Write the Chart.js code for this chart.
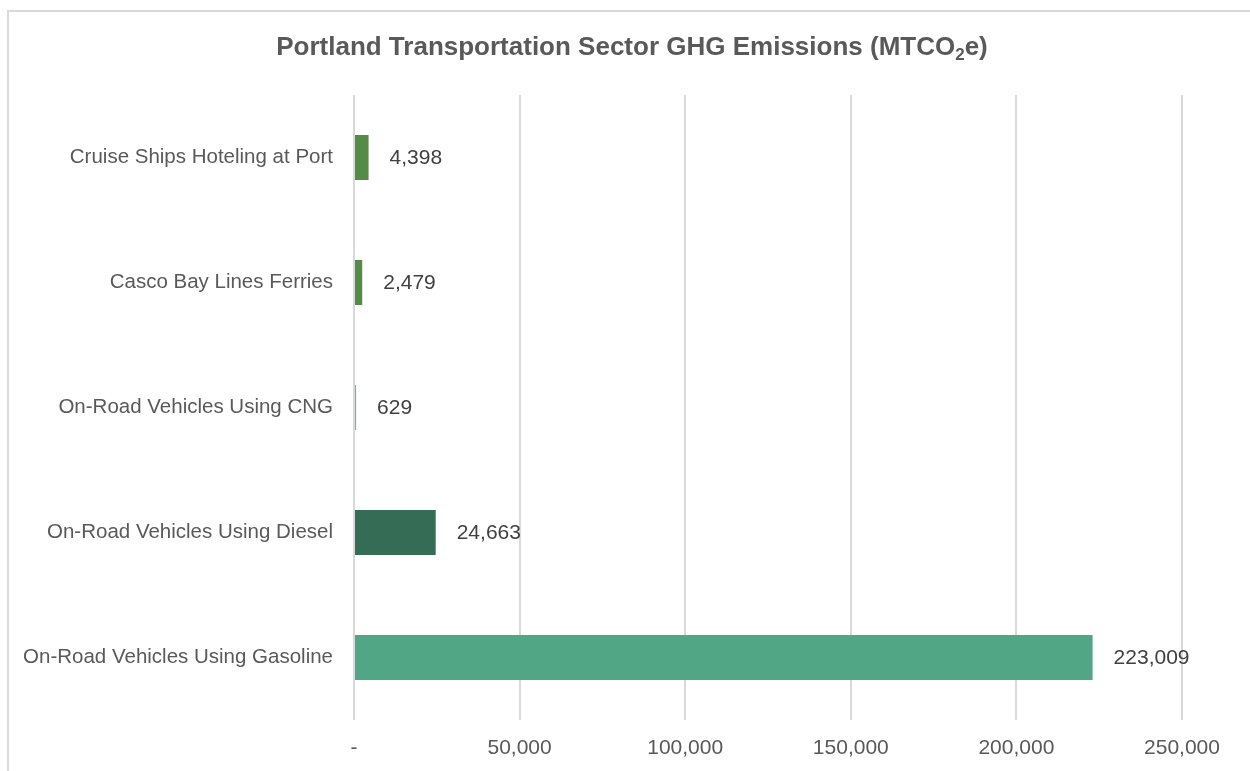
<!DOCTYPE html>
<html>
<head>
<meta charset="utf-8">
<script src="https://cdn.jsdelivr.net/npm/chart.js@4.4.1/dist/chart.umd.min.js"></script>
<style>
  html, body { margin: 0; padding: 0; background: #fff; }
  #wrap { position: relative; width: 1250px; height: 771px; overflow: hidden; }
  #frame { position: absolute; left: 7px; top: 10px; width: 1300px; height: 800px;
           border-left: 2px solid #d9d9d9; border-top: 2px solid #d9d9d9; }
  #title { position: absolute; left: 7px; width: 1250px; top: 31px; text-align: center;
           font: bold 26px "Liberation Sans", Arial, sans-serif; color: #595959; }
  #title sub { font-size: 17px; vertical-align: -5px; line-height: 0; }
  canvas { position: absolute; left: 0; top: 0; }
</style>
</head>
<body>
<div id="wrap">
  <div id="frame"></div>
  <canvas id="mycanvas" width="1250" height="771"></canvas>
  <div id="title">Portland Transportation Sector GHG Emissions (MTCO<sub>2</sub>e)</div>
</div>
<script>
var categories = ["Cruise Ships Hoteling at Port", "Casco Bay Lines Ferries", "On-Road Vehicles Using CNG",
                  "On-Road Vehicles Using Diesel", "On-Road Vehicles Using Gasoline"];
var emissions = [4398, 2479, 629, 24663, 223009];
var barColors = ["#548b47", "#548b47", "#5fbf9a", "#356c56", "#50a685"];
var xTicks = [0, 50000, 100000, 150000, 200000, 250000];

// value labels next to each bar
var barLabels = {
  id: 'barLabels',
  afterDatasetsDraw: function(chart) {
    var ctx = chart.ctx;
    var meta = chart.getDatasetMeta(0);
    ctx.save();
    ctx.font = '21px "Liberation Sans", Arial, sans-serif';
    ctx.fillStyle = '#404040';
    ctx.textAlign = 'left';
    ctx.textBaseline = 'middle';
    meta.data.forEach(function(bar, i) {
      ctx.fillText(emissions[i].toLocaleString('en-US'), bar.x + 21, bar.y + 1);
    });
    ctx.restore();
  }
};

var ctx = document.getElementById("mycanvas");
var barGraph = new Chart(ctx, {
  type: 'bar',
  data: {
    labels: categories,
    datasets: [{
      data: emissions,
      backgroundColor: barColors,
      borderWidth: 0,
      barPercentage: 0.36,
      categoryPercentage: 1
    }]
  },
  options: {
    indexAxis: 'y',
    responsive: false,
    animation: false,
    layout: { padding: { left: 0, right: 68, top: 95, bottom: 0 } },
    plugins: { legend: { display: false }, tooltip: { enabled: false } },
    scales: {
      x: {
        min: 0,
        max: 250000,
        afterBuildTicks: function(scale) {
          scale.ticks = xTicks.map(function(v) { return { value: v }; });
        },
        afterFit: function(scale) { scale.height = 51; },
        grid: { color: '#d9d9d9', lineWidth: 2, drawTicks: false },
        border: { display: false },
        ticks: {
          padding: 16,
          color: '#595959',
          font: { family: '"Liberation Sans", Arial, sans-serif', size: 21 },
          callback: function(v) { return v === 0 ? '-' : v.toLocaleString('en-US'); }
        }
      },
      y: {
        afterFit: function(scale) { scale.width = 354; },
        grid: { display: false },
        border: { display: false },
        ticks: {
          padding: 13,
          color: '#595959',
          font: { family: '"Liberation Sans", Arial, sans-serif', size: 20.5 }
        }
      }
    }
  },
  plugins: [barLabels]
});
</script>
</body>
</html>
